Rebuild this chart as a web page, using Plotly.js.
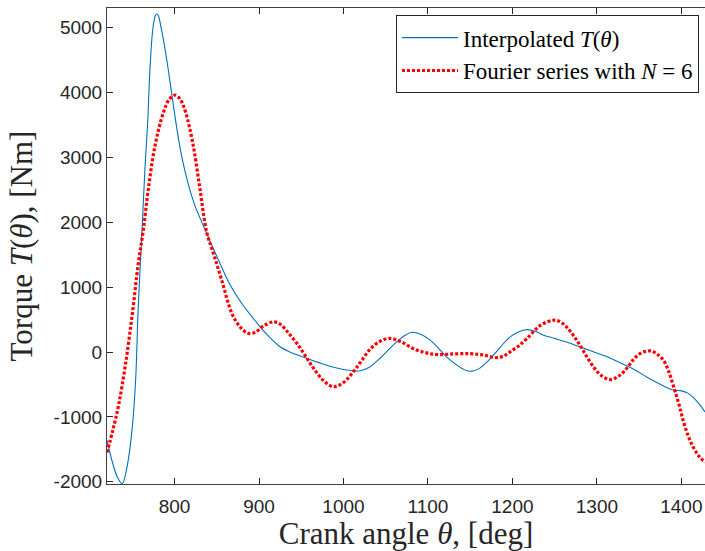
<!DOCTYPE html>
<html>
<head>
<meta charset="utf-8">
<script src="https://cdn.plot.ly/plotly-3.0.1.min.js"></script>
<style>html,body{margin:0;padding:0;background:#fff;}#chart{width:705px;height:551px;}</style>
</head>
<body>
<div id="chart"></div>
<script>
// Interpolated torque T(theta)
const interpTheta = [720, 726, 732, 738, 744, 750, 754, 757, 761, 765, 768, 771, 774, 777, 779, 781, 784, 787, 792, 797, 803, 809, 816, 824, 834, 844, 855, 866, 880, 895, 901, 910, 925, 940, 957, 970, 984, 1000, 1010, 1020, 1030, 1043, 1053, 1063, 1072, 1081, 1092, 1103, 1113, 1122, 1134, 1146, 1152, 1160, 1174, 1186, 1197, 1207, 1217, 1227, 1237, 1250, 1264, 1284, 1304, 1316, 1328, 1344, 1359, 1371, 1383, 1391, 1399, 1407, 1414, 1421, 1428];
const interpTorque = [-1360, -1680, -1920, -2030, -1750, -1150, -400, 700, 1750, 2850, 3500, 4400, 4950, 5180, 5215, 5180, 5000, 4800, 4400, 3950, 3420, 2980, 2600, 2260, 1950, 1650, 1330, 1030, 740, 490, 390, 260, 80, -20, -100, -160, -220, -270, -290, -290, -240, -100, 30, 155, 250, 305, 270, 180, 50, -75, -200, -290, -295, -260, -100, 80, 230, 310, 345, 320, 260, 210, 155, 60, -35, -95, -170, -270, -385, -470, -550, -590, -595, -630, -700, -800, -925];

// Fourier series approximation with N = 6
const fourierTheta = [720, 727, 734, 742, 750, 757, 763, 769, 777, 787, 794, 801, 807, 813, 822, 830, 838, 846, 856, 868, 878, 887, 895, 905, 917, 925, 935, 945, 955, 965, 977, 988, 1000, 1016, 1032, 1044, 1055, 1068, 1083, 1097, 1111, 1130, 1150, 1165, 1181, 1190, 1197, 1207, 1217, 1233, 1248, 1256, 1264, 1272, 1280, 1296, 1306, 1316, 1326, 1335, 1343, 1351, 1358, 1365, 1372, 1379, 1385, 1391, 1397, 1402, 1408, 1414, 1421, 1428];
const fourierTorque = [-1550, -1200, -800, -180, 590, 1360, 1880, 2520, 3190, 3700, 3900, 3960, 3890, 3700, 3190, 2520, 1850, 1520, 1100, 590, 380, 290, 300, 400, 465, 430, 290, 130, -60, -260, -450, -535, -470, -230, 50, 170, 210, 160, 50, -10, -40, -30, -25, -45, -85, -60, 0, 90, 206, 410, 490, 470, 386, 260, 103, -231, -370, -425, -370, -256, -120, -25, 10, 15, -40, -130, -300, -540, -800, -1050, -1290, -1465, -1610, -1700];

const xTicks = [800, 900, 1000, 1100, 1200, 1300, 1400];
const yTicks = [-2000, -1000, 0, 1000, 2000, 3000, 4000, 5000];

const serif = '"Liberation Serif", "DejaVu Serif", serif';
const sans = '"Liberation Sans", Arial, sans-serif';

const traces = [
  {
    x: interpTheta, y: interpTorque, type: 'scatter', mode: 'lines',
    name: 'Interpolated <i>T</i>(<i>θ</i>)',
    line: {color: '#0072BD', width: 1.1, shape: 'spline', smoothing: 1}
  },
  {
    x: fourierTheta, y: fourierTorque, type: 'scatter', mode: 'lines',
    name: 'Fourier series with <i>N</i> = 6',
    line: {color: '#FF0000', width: 3.2, dash: '3px,2px', shape: 'spline', smoothing: 1}
  }
];

const layout = {
  width: 705, height: 551,
  margin: {l: 107, r: 0, t: 8, b: 67, pad: 0},
  paper_bgcolor: '#ffffff', plot_bgcolor: '#ffffff',
  showlegend: true,
  legend: {
    x: 0.99, y: 0.985, xanchor: 'right', yanchor: 'top',
    bgcolor: '#ffffff', bordercolor: '#262626', borderwidth: 1,
    font: {family: serif, size: 23, color: '#000000'},
    itemwidth: 56, tracegroupgap: 0
  },
  xaxis: {
    range: [720, 1428], tickvals: xTicks, ticktext: xTicks.map(String),
    ticks: 'inside', ticklen: 6, tickwidth: 1, tickcolor: '#262626',
    ticklabelstandoff: 5,
    showline: true, linecolor: '#404040', linewidth: 1, mirror: 'ticks',
    showgrid: false, zeroline: false,
    tickfont: {family: sans, size: 19, color: '#262626'},
    title: {text: 'Crank angle <i>θ</i>, [deg]', font: {family: serif, size: 31, color: '#262626'}, standoff: 3}
  },
  yaxis: {
    range: [-2035, 5304], tickvals: yTicks, ticktext: yTicks.map(String),
    ticks: 'inside', ticklen: 6, tickwidth: 1, tickcolor: '#262626',
    showline: true, linecolor: '#404040', linewidth: 1, mirror: false,
    showgrid: false, zeroline: false,
    tickfont: {family: sans, size: 19, color: '#262626'},
    title: {text: 'Torque <i>T</i>(<i>θ</i>), [Nm]', font: {family: serif, size: 31, color: '#262626'}, standoff: 11}
  }
};

Plotly.newPlot('chart', traces, layout, {displayModeBar: false, staticPlot: true});
</script>
</body>
</html>
